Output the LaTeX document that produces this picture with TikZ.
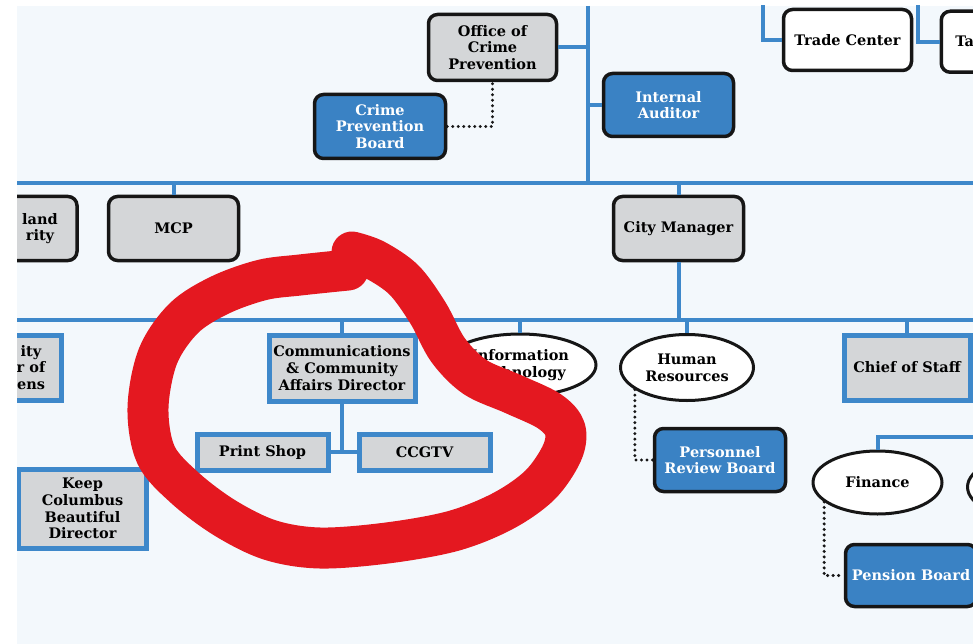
\documentclass[tikz,border=0pt]{standalone}
\usepackage{fontspec}
\setmainfont{DejaVu Serif}
\usetikzlibrary{shapes.geometric}
\definecolor{bgc}{RGB}{243,248,252}
\definecolor{linec}{RGB}{62,136,202}
\definecolor{bluec}{RGB}{58,130,196}
\definecolor{grayc}{RGB}{212,214,216}
\definecolor{redc}{RGB}{228,24,32}
\definecolor{inkc}{RGB}{22,22,22}
\newcommand{\lbl}{\fontsize{14.5}{16.7}\selectfont\bfseries}
\tikzset{
  conn/.style={draw=linec, line width=4pt},
  dotc/.style={draw=inkc, line width=3.4pt, dash pattern=on 0pt off 5.5pt, line cap=round},
  rbox/.style={draw=inkc, line width=3.5pt, rounded corners=9pt, inner sep=2pt, align=center, font=\lbl},
  graybox/.style={rbox, fill=grayc},
  bluebox/.style={rbox, fill=bluec, text=white},
  whitebox/.style={rbox, fill=white},
  sqbox/.style={draw=linec, line width=5pt, fill=grayc, align=center, font=\lbl, inner sep=2pt},
  ell/.style={ellipse, draw=inkc, line width=3pt, fill=white, align=center, font=\lbl, inner sep=0pt},
  plain/.style={align=center, font=\lbl, inner sep=0pt},
  redloop/.style={draw=redc, line width=41pt, line cap=round, line join=round},
}
\begin{document}
\begin{tikzpicture}[x=1pt, y=-1pt]
\useasboundingbox (0,0) rectangle (973,644);
\fill[white] (0,0) rectangle (973,644);
\fill[bgc] (17,6) rectangle (973,644);
\begin{scope}
\clip (17,6) rectangle (973,644);
% coordinates for bus lines
\coordinate (vtop) at (588,6);
\coordinate (vbot) at (588,183);
\coordinate (h1w) at (10,183);
\coordinate (h1e) at (985,183);
\coordinate (h2w) at (10,320);
\coordinate (h2e) at (985,320);
\coordinate (h3e) at (985,437);
\coordinate (tctop) at (763,4);
\coordinate (tatop) at (918,4);
% nodes
\node[graybox, minimum width=128pt, minimum height=66pt] (ocp) at (492.5,47.5) {Office of\\Crime\\Prevention};
\node[bluebox, minimum width=131pt, minimum height=64pt] (cpb) at (380,126.5) {Crime\\Prevention\\Board};
\node[bluebox, minimum width=130pt, minimum height=63pt] (ia) at (668.5,105) {Internal\\Auditor};
\node[whitebox, minimum width=128pt, minimum height=61pt] (tc) at (847.5,40) {Trade Center};
\node[whitebox, anchor=north west, minimum height=61pt, text width=120pt, align=left, inner xsep=14pt] (ta) at (939.5,9.5) {Ta};
\node[graybox, minimum width=130pt, minimum height=64pt] (hs) at (12,228.5) {};
\node[plain] (hstext) at (40,228.5) {land\\rity};
\node[graybox, minimum width=130pt, minimum height=64pt] (mcp) at (173.5,228.5) {MCP};
\node[graybox, minimum width=130pt, minimum height=64pt] (cm) at (678.5,228.5) {City Manager};
\node[sqbox, minimum width=128pt, minimum height=65pt] (cc) at (-3,367.5) {};
\node[plain] (cctext) at (31,367.5) {ity\\r of\\ens};
\node[sqbox, minimum width=146pt, minimum height=66pt] (comm) at (342,368) {Communications\\\& Community\\Affairs Director};
\node[sqbox, minimum width=131pt, minimum height=36pt] (ps) at (262.5,452) {Print Shop};
\node[sqbox, minimum width=131pt, minimum height=36pt] (ccgtv) at (424.5,452) {CCGTV};
\node[sqbox, minimum width=128pt, minimum height=79pt] (kcb) at (82.5,508.5) {Keep\\Columbus\\Beautiful\\Director};
\node[ell, minimum width=152pt, minimum height=62pt] (it) at (520,365) {Information\\Technology};
\node[ell, minimum width=133pt, minimum height=66pt] (hr) at (687,367.5) {Human\\Resources};
\node[bluebox, minimum width=131pt, minimum height=63pt] (prb) at (720,460) {Personnel\\Review Board};
\node[sqbox, minimum width=126pt, minimum height=65pt] (cos) at (907,367.5) {Chief of Staff};
\node[ell, minimum width=129pt, minimum height=63pt] (fin) at (877.5,482.5) {Finance};
\node[ell, minimum width=129pt, minimum height=63pt] (fin2) at (1032,487) {};
\node[bluebox, minimum width=131pt, minimum height=62pt] (pb) at (911,575.5) {Pension Board};
% connectors
\draw[conn] (vtop) -- (vbot);
\draw[conn] (h1w) -- (h1e);
\draw[conn] (h2w) -- (h2e);
\draw[conn] (ocp.east) -- (ocp.east -| vtop);
\draw[conn] (ia.west) -- (ia.west -| vtop);
\draw[conn] (tctop) |- (tc.west);
\draw[conn] (tatop) |- (ta.west);
\draw[conn] (mcp.north |- h1w) -- (mcp.north);
\draw[conn] (cm.north |- h1w) -- (cm.north);
\draw[conn] (cm.south) -- (cm.south |- h2w);
\draw[conn] (comm.north |- h2w) -- (comm.north);
\draw[conn] (it.north |- h2w) -- (it.north);
\draw[conn] (hr.north |- h2w) -- (hr.north);
\draw[conn] (cos.north |- h2w) -- (cos.north);
\draw[conn] (fin.north) -- (fin.north |- h3e) -- (h3e);
\draw[conn] (comm.south) -- (comm.south |- ps.east);
\draw[conn] (ps.east) -- (ccgtv.west);
\draw[dotc] (cpb.east) -| (ocp.south);
\draw[dotc] (hr.203) |- (prb.west);
\draw[dotc] (fin.200) |- (pb.west);
% red hand-drawn loop
\draw[redloop] plot[smooth, tension=0.55] coordinates {
 (348,270) (300,275) (262,280) (220,295) (184,318) (158,356) (148,408) (156,455)
 (185,488) (225,518) (270,540) (320,548) (387,543) (453,531) (503,511) (540,485)
 (562,453) (565,429) (549,411) (513,394) (475,377) (448,350) (428,313) (404,280)
 (375,260) (352,252)};
\end{scope}
\end{tikzpicture}
\end{document}
